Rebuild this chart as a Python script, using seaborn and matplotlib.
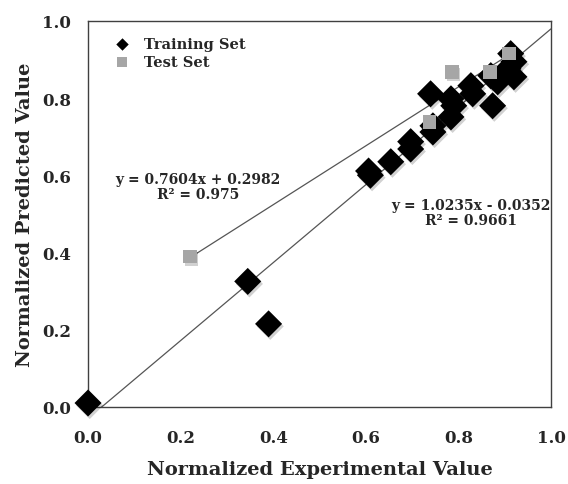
import numpy as np
import pandas as pd
import matplotlib
matplotlib.use("Agg")
import matplotlib.pyplot as plt
import matplotlib.patheffects as pe
import seaborn as sns

# ---- data ----
train_x = [0.000, 0.345, 0.390, 0.606, 0.610, 0.654, 0.697, 0.697, 0.740, 0.745,
           0.745, 0.784, 0.784, 0.790, 0.827, 0.831, 0.870, 0.874, 0.885, 0.913,
           0.920, 0.920, 0.907]
train_y = [0.010, 0.325, 0.215, 0.611, 0.600, 0.635, 0.687, 0.668, 0.811, 0.712,
           0.728, 0.798, 0.751, 0.780, 0.832, 0.811, 0.858, 0.780, 0.842, 0.915,
           0.894, 0.855, 0.876]
test_x = [0.220, 0.738, 0.786, 0.868, 0.909]
test_y = [0.389, 0.738, 0.868, 0.868, 0.915]
ticks = [0.0, 0.2, 0.4, 0.6, 0.8, 1.0]
tick_labels = ["0.0", "0.2", "0.4", "0.6", "0.8", "1.0"]
eq_test = "y = 0.7604x + 0.2982\nR² = 0.975"
eq_train = "y = 1.0235x - 0.0352\nR² = 0.9661"

train = pd.DataFrame({"x": train_x, "y": train_y})
test = pd.DataFrame({"x": test_x, "y": test_y})

sns.set_style("white")
plt.rcParams["font.family"] = ["DejaVu Serif"]
plt.rcParams["font.weight"] = "bold"

fig = plt.figure(figsize=(5.68, 4.85), dpi=100)
ax = fig.add_axes([0.155, 0.159, 0.815, 0.796])
ax.set_xlim(0, 1)
ax.set_ylim(0, 1)

line_kw = dict(color="#555555", lw=0.9)
sns.regplot(data=train, x="x", y="y", ax=ax, scatter=False, ci=None,
            truncate=False, line_kws=line_kw)
sns.regplot(data=test, x="x", y="y", ax=ax, scatter=False, ci=None,
            truncate=True, line_kws=line_kw)

shadow = [pe.SimplePatchShadow(offset=(1.2, -1.8), shadow_rgbFace="black", alpha=0.18),
          pe.Normal()]
sns.scatterplot(data=train, x="x", y="y", ax=ax, marker="D", s=190,
                color="black", edgecolor="black", linewidth=0,
                label="Training Set", clip_on=False, zorder=3)
sns.scatterplot(data=test, x="x", y="y", ax=ax, marker="s", s=95,
                color="#a6a6a6", edgecolor="#a6a6a6", linewidth=0,
                label="Test Set", clip_on=False, zorder=4)
for coll in ax.collections:
    coll.set_path_effects(shadow)

ax.set_xlim(0, 1)
ax.set_ylim(0, 1)
ax.set_xticks(ticks)
ax.set_xticklabels(tick_labels)
ax.set_yticks(ticks)
ax.set_yticklabels(tick_labels)
ax.tick_params(axis="both", length=0, labelsize=12)
ax.tick_params(axis="x", pad=16)
ax.tick_params(axis="y", pad=12)
for lab in ax.get_xticklabels() + ax.get_yticklabels():
    lab.set_fontweight("bold")

ax.set_xlabel("Normalized Experimental Value", fontsize=14, fontweight="bold", labelpad=10)
ax.set_ylabel("Normalized Predicted Value", fontsize=14, fontweight="bold", labelpad=6)

for sp in ax.spines.values():
    sp.set_color("#404040")
    sp.set_linewidth(1.0)

ax.text(0.238, 0.572, eq_test, ha="center", va="center", fontsize=10,
        fontweight="bold", linespacing=1.1)
ax.text(0.827, 0.503, eq_train, ha="center", va="center", fontsize=10,
        fontweight="bold", linespacing=1.1)

leg = ax.legend(loc="upper left", bbox_to_anchor=(0.02, 0.985), frameon=False,
                fontsize=10.5, handletextpad=0.5, labelspacing=0.3,
                markerscale=1.0, borderaxespad=0.3)
for t in leg.get_texts():
    t.set_fontweight("bold")
for h, sz in zip(leg.legend_handles, [40, 60]):
    h.set_path_effects([])
    h.set_sizes([sz])

fig.savefig("out.png", dpi=100)
